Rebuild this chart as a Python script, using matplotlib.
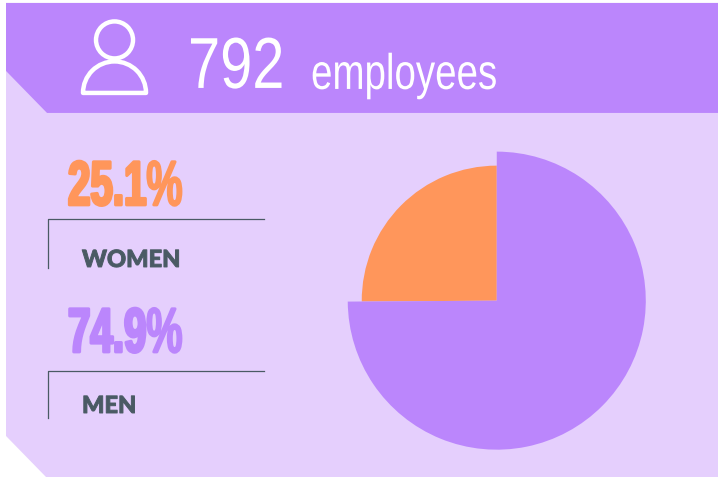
#!/usr/bin/env python3

import matplotlib
matplotlib.use('Agg')
import matplotlib.pyplot as plt
from matplotlib.patches import Polygon, Circle, Wedge
from matplotlib.patheffects import AbstractPathEffect
from matplotlib.transforms import Affine2D

W, H = 718, 477

employees = 792
categories = ['WOMEN', 'MEN']
shares = [25.1, 74.9]
share_labels = ['25.1', '74.9']

PURPLE = '#BB86FC'
LIGHT = '#E5CFFD'
ORANGE = '#FF965B'
SLATE = '#4A5A64'

plt.rcParams['mathtext.fontset'] = 'custom'
plt.rcParams['mathtext.rm'] = 'Liberation Sans'
plt.rcParams['mathtext.bf'] = 'Liberation Sans:bold'

class Squeeze(AbstractPathEffect) :
	# no condensed font installed, so narrow the glyphs around the text's left edge
	def __init__(self, sx, x0, stroke=0.0) :
		super().__init__()
		self.sx, self.x0, self.stroke = sx, x0, stroke

	def draw_path(self, renderer, gc, tpath, affine, rgbFace=None) :
		aff = affine + Affine2D().translate(-self.x0, 0).scale(self.sx, 1).translate(self.x0, 0)
		if self.stroke > 0 :
			gc0 = renderer.new_gc()
			gc0.copy_properties(gc)
			gc0.set_linewidth(self.stroke)
			gc0.set_foreground(rgbFace)
			renderer.draw_path(gc0, tpath, aff, rgbFace)
			gc0.restore()
		else :
			renderer.draw_path(gc, tpath, aff, rgbFace)

def yy(y) :
	# picture rows run downward, the axes run upward
	return H - y

fig = plt.figure(figsize=((W + 0.1) / 100, (H + 0.1) / 100), dpi=100, facecolor='white')
ax = fig.add_axes([0, 0, 1, 1])

# pie, the men slice stands out with a larger radius
center = (496.7, yy(300.7))
ax.pie(shares, colors=[ORANGE, 'none'], startangle=90, radius=135, center=center, frame=True)
ax.pie(shares, colors=['none', PURPLE], startangle=90, radius=149, center=center, frame=True)
ax.set_xlim(0, W)
ax.set_ylim(0, H)
ax.axis('off')

# panels
ax.add_patch(Polygon([(6, yy(60)), (718, yy(60)), (718, yy(477)), (46, yy(477)), (6, yy(436))], fc=LIGHT, ec='none', zorder=0))
ax.add_patch(Polygon([(6, yy(3)), (718, yy(3)), (718, yy(113)), (47, yy(113)), (6, yy(71))], fc=PURPLE, ec='none', zorder=0.5))

# person icon
ax.add_patch(Circle((114.5, yy(40)), 18.5, fc='none', ec='white', lw=3.2))
ax.add_patch(Wedge((114.5, yy(93)), 31.5, 0, 180, fc='none', ec='white', lw=3.2, joinstyle='round'))

# header
ax.text(188, yy(88), str(employees), color='white', fontsize=52, family='Liberation Sans', va='baseline',
	path_effects=[Squeeze(0.80, 188)])
ax.text(311, yy(89), 'employees', color='white', fontsize=36, family='Liberation Sans', va='baseline',
	path_effects=[Squeeze(0.77, 311)])

# left column
colors = [ORANGE, PURPLE]
num_y = [205, 352]
line_y = [219, 371]
line_end = [268, 418]
name_y = [267, 413]
for i, name in enumerate(categories) :
	ax.text(68, yy(num_y[i]), r'$\mathbf{%s}\mathrm{\%%}$' % share_labels[i], color=colors[i], fontsize=45,
		va='baseline', path_effects=[Squeeze(0.645, 68, 2.2)])
	ax.plot([47.5, 47.5, 264], [yy(line_end[i]), yy(line_y[i]), yy(line_y[i])], color=SLATE, lw=0.9, solid_joinstyle='round')
	ax.text(82, yy(name_y[i]), name, color=SLATE, fontsize=17, family='Lato', weight='black', va='baseline',
		path_effects=[Squeeze(1.0, 82, 0.7)])

fig.savefig('out.png', dpi=100, facecolor='white')
